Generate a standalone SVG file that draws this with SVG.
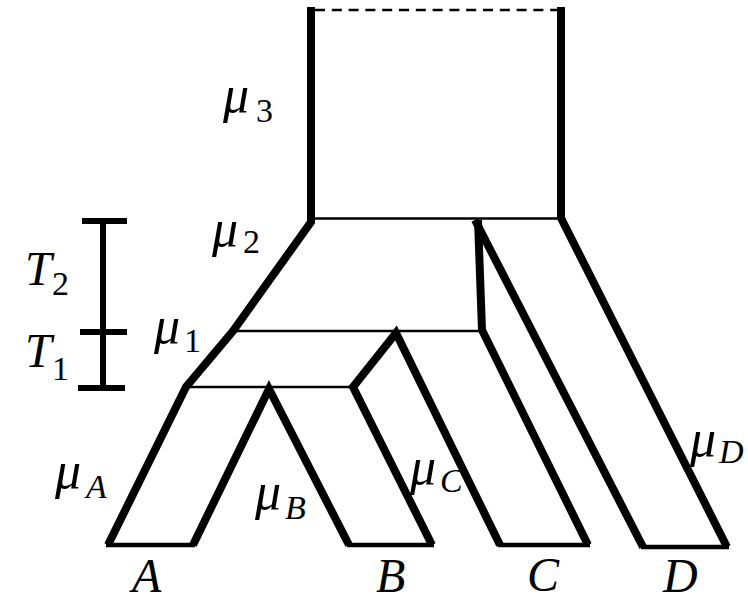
<svg xmlns="http://www.w3.org/2000/svg" width="748" height="603" viewBox="0 0 748 603">
<style>
.thick{fill:none;stroke:#000;stroke-width:8;stroke-linejoin:miter;stroke-miterlimit:10}
.base{fill:none;stroke:#000;stroke-width:4.5}
.thin{fill:none;stroke:#000;stroke-width:2.6}
.bar{fill:none;stroke:#000;stroke-width:6}
text{font-family:"Liberation Serif","Times New Roman",serif;font-style:italic;fill:#000}
.m{font-size:48px}
.g{font-size:52px}
.s{font-size:34px}
.u{font-style:normal}
</style>
<rect width="748" height="603" fill="#fff"/>
<g id="connectors">
<line class="thin" x1="315" y1="10" x2="557" y2="10" stroke-dasharray="10 6.8"/>
<line class="thin" x1="313" y1="218.5" x2="558" y2="218.5"/>
<line class="thin" x1="233" y1="331" x2="480" y2="331"/>
<line class="thin" x1="187" y1="387" x2="352" y2="387"/>
</g>
<g id="tree">
<path class="thick" d="M311,7 L311,222 L233,331 L186,387 L108,545"/>
<path class="thick" d="M193,545 L269,389 L349,545"/>
<path class="thick" d="M432,545 L353,387 L396,333 L500,545"/>
<path class="thick" d="M588,545 L482,330 L478,220"/>
<path class="thick" d="M475,220 L643,547"/>
<path class="thick" d="M727,547 L561,218 L561,7"/>
<g id="leaf-bases">
<line class="base" x1="106" y1="545" x2="195" y2="545"/>
<line class="base" x1="347" y1="545" x2="434" y2="545"/>
<line class="base" x1="498" y1="545" x2="590" y2="545"/>
<line class="base" x1="641" y1="547" x2="729" y2="547"/>
</g>
</g>
<g id="scale">
<line class="bar" x1="103" y1="219" x2="103" y2="389"/>
<line class="bar" x1="82" y1="221" x2="127" y2="221"/>
<line class="bar" x1="80" y1="332" x2="127" y2="332"/>
<line class="bar" x1="78" y1="388" x2="125" y2="388"/>
</g>
<g id="labels">
<text class="g" x="223" y="112">μ<tspan class="s u" x="256" y="122">3</tspan></text>
<text class="g" x="212" y="246">μ<tspan class="s u" x="243" y="253">2</tspan></text>
<text class="g" x="154" y="343">μ<tspan class="s u" x="184" y="352">1</tspan></text>
<text class="g" x="55" y="488">μ<tspan class="s" x="86" y="498">A</tspan></text>
<text class="g" x="255" y="509">μ<tspan class="s" x="285" y="519">B</tspan></text>
<text class="g" x="410" y="484">μ<tspan class="s" x="440" y="492">C</tspan></text>
<text class="g" x="690" y="456">μ<tspan class="s" x="719" y="463">D</tspan></text>
<text class="m" x="25" y="285">T<tspan class="s u" x="52" y="295">2</tspan></text>
<text class="m" x="25" y="367">T<tspan class="s u" x="52" y="380">1</tspan></text>
<text class="m" x="132" y="592">A</text>
<text class="m" x="376" y="592">B</text>
<text class="m" x="527" y="591">C</text>
<text class="m" x="663" y="592">D</text>
</g>
</svg>
